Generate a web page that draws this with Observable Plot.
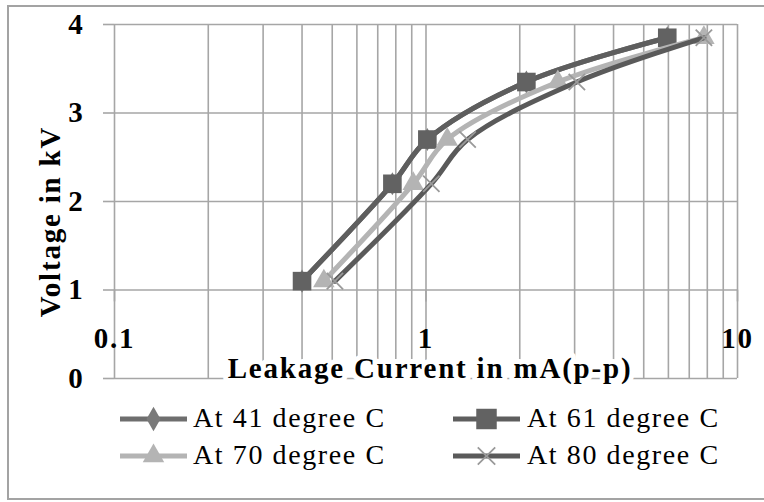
<!DOCTYPE html>
<html><head><meta charset="utf-8">
<script src="https://cdn.jsdelivr.net/npm/d3@7"></script>
<script src="https://cdn.jsdelivr.net/npm/@observablehq/plot@0.6"></script>
<style>
html,body{margin:0;padding:0;background:#fff;width:764px;height:502px;overflow:hidden;}
#frame{position:absolute;left:7px;top:5px;width:800px;height:495px;border:2px solid #a3a3a3;box-sizing:border-box;}
#chart{position:absolute;left:0;top:0;}
.legtext{position:absolute;font-family:"Liberation Serif",serif;font-size:28px;letter-spacing:1.6px;color:#000;white-space:nowrap;line-height:1;}
.legsw{position:absolute;}
</style></head><body>
<div id="frame"></div>
<div id="chart"></div>
<div id="legend"></div>
<script>
// ---- data ----
const seriesNames = ["At 41 degree C", "At 61 degree C", "At 70 degree C", "At 80 degree C"];
const voltage   = [1.1, 2.2, 2.7, 3.35, 3.85];
const current41 = [0.40, 0.78, 1.01, 2.1, 5.95];
const current61 = [0.40, 0.78, 1.01, 2.1, 5.95];
const current70 = [0.47, 0.91, 1.17, 2.65, 7.8];
const current80 = [0.51, 1.04, 1.36, 3.05, 7.8];
const xTickLabels = [0.1, 1, 10];
const yTickLabels = [0, 1, 2, 3, 4];
const xGridValues = [0.1,0.2,0.3,0.4,0.5,0.6,0.7,0.8,0.9,1,2,3,4,5,6,7,8,9,10];

// ---- styles ----
const lineColors   = ["#6e6e6e", "#5e5e5e", "#b4b4b4", "#5a5a5a"];
const markerColors = ["#7a7a7a", "#626262", "#b4b4b4", "#9a9a9a"];
const symbols      = ["diamond", "square", "triangle", "times"];
const radii        = [7, 10.5, 8, 7.5];
const gridColor = "#a6a6a6";

const currents = [current41, current61, current70, current80];
const rows = [];
seriesNames.forEach((s, i) => voltage.forEach((v, j) => rows.push({series: s, x: currents[i][j], y: v})));

const seriesMarks = [];
seriesNames.forEach((s, i) => {
  const d = rows.filter(r => r.series === s);
  seriesMarks.push(Plot.line(d, {x: "x", y: "y", stroke: lineColors[i], strokeWidth: 5, curve: "catmull-rom"}));
  const stroked = symbols[i] === "times";
  seriesMarks.push(Plot.dot(d, {x: "x", y: "y", symbol: () => symbols[i], r: radii[i],
    fill: stroked ? "none" : markerColors[i], stroke: stroked ? markerColors[i] : "none", strokeWidth: stroked ? 1.8 : 0}));
});

const tickShape = {draw(context, l) { context.moveTo(0, 0); context.lineTo(0, -l); }};

const chart = Plot.plot({
  width: 764, height: 400,
  marginLeft: 114, marginRight: 27, marginTop: 24, marginBottom: 22,
  style: "font-family:'Liberation Serif',serif;font-size:29px;font-weight:bold;letter-spacing:1.8px;background:transparent;overflow:visible;color:black;",
  x: {type: "log", domain: [0.1, 10], axis: null},
  y: {domain: [0, 4], axis: null},
  marks: [
    Plot.gridX(xGridValues, {stroke: gridColor, strokeOpacity: 1, strokeWidth: 1.6}),
    Plot.gridY(yTickLabels, {stroke: gridColor, strokeOpacity: 1, strokeWidth: 1.6}),
    Plot.axisY(yTickLabels, {tickSize: 11, tickPadding: 19, tickFormat: d => String(d), stroke: gridColor, strokeWidth: 1.6, fill: "black", label: null, fontWeight: "bold"}),
    Plot.vector(xTickLabels, {x: d => d, y: () => 1, length: 11, rotate: 180, anchor: "start", shape: tickShape, stroke: gridColor, strokeWidth: 1.6}),
    Plot.text(xTickLabels, {x: d => d, y: () => 1, dy: 48.5, text: d => String(d), fill: "black", fontWeight: "bold"}),
    Plot.text(["Leakage Current in mA(p-p)"], {frameAnchor: "bottom", lineAnchor: "middle", textAnchor: "middle", dx: 4, dy: -9.5, text: d => d, fill: "black", stroke: "white", strokeWidth: 10, fontWeight: "bold"}),
    Plot.text(["Voltage in kV"], {frameAnchor: "left", lineAnchor: "middle", textAnchor: "middle", rotate: -90, dx: -64, dy: 20, text: d => d, fill: "black", fontWeight: "bold"}),
    ...seriesMarks
  ]
});
document.getElementById("chart").appendChild(chart);

// ---- legend ----
const legend = d3.select("#legend");
const colSwatchX = [120, 453], colTextX = [193, 527], rowY = [419, 456];
const d3sym = {diamond: d3.symbolDiamond, square: d3.symbolSquare, triangle: d3.symbolTriangle, times: d3.symbolTimes};
const symSize = {diamond: 170, square: 420, triangle: 200, times: 200};
seriesNames.forEach((s, i) => {
  const col = i % 2, row = Math.floor(i / 2);
  const svg = legend.append("svg").attr("class", "legsw").attr("width", 68).attr("height", 30)
    .style("left", colSwatchX[col] + "px").style("top", (rowY[row] - 15) + "px");
  svg.append("line").attr("x1", 0).attr("x2", 67).attr("y1", 15).attr("y2", 15)
    .attr("stroke", lineColors[i]).attr("stroke-width", 5);
  const stroked = symbols[i] === "times";
  svg.append("path").attr("transform", "translate(33.5,15)")
    .attr("d", d3.symbol(d3sym[symbols[i]], symSize[symbols[i]])())
    .attr("fill", stroked ? "none" : markerColors[i])
    .attr("stroke", stroked ? markerColors[i] : "none").attr("stroke-width", 1.8);
  legend.append("div").attr("class", "legtext").text(s)
    .style("left", colTextX[col] + "px").style("top", (rowY[row] - 15) + "px");
});
</script>
</body></html>
